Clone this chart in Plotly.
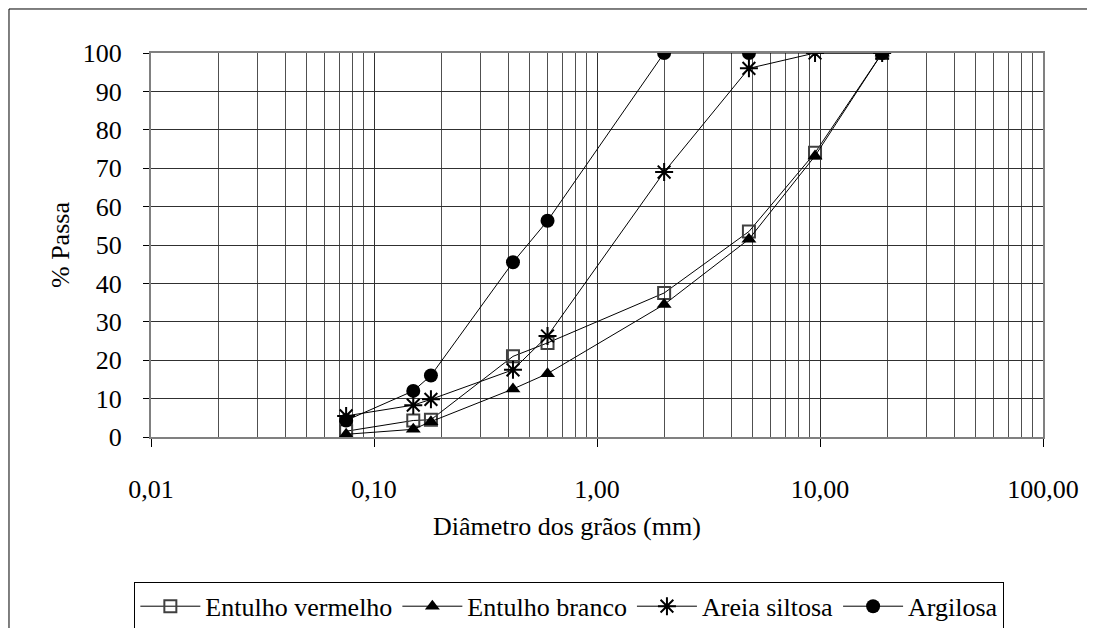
import plotly.graph_objects as go

diametros = [0.075, 0.15, 0.18, 0.42, 0.6, 2.0, 4.8, 9.5, 19.0]
entulho_vermelho = [1.5, 4.3, 4.5, 21.0, 24.5, 37.5, 53.5, 74.0, 100.0]
entulho_branco = [0.7, 2.0, 4.0, 12.5, 16.5, 34.5, 51.5, 73.2, 100.0]
areia_siltosa = [5.5, 8.3, 9.8, 17.5, 26.3, 69.0, 96.0, 100.0, 100.0]
argilosa = [4.3, 12.0, 16.0, 45.5, 56.3, 100.0, 100.0, None, 100.0]

x_tickvals = [0.01, 0.1, 1, 10, 100]
x_ticktext = ["0,01", "0,10", "1,00", "10,00", "100,00"]
minor_vals = [k * 10 ** e for e in range(-2, 2) for k in range(2, 10)]

FONT = "Liberation Serif"
FS = 26
fig = go.Figure()

series = [
    ("Entulho vermelho", entulho_vermelho, dict(symbol="square-open", size=12, color="#404040", line=dict(width=2, color="#404040"))),
    ("Entulho branco", entulho_branco, dict(symbol="triangle-up", size=13, color="black")),
    ("Areia siltosa", areia_siltosa, dict(symbol="asterisk-open", size=15, color="black", line=dict(width=2, color="black"))),
    ("Argilosa", argilosa, dict(symbol="circle", size=14, color="black")),
]
for name, vals, mk in series:
    fig.add_trace(go.Scatter(
        x=diametros, y=vals, name=name, mode="lines+markers",
        line=dict(color="black", width=1), marker=mk, connectgaps=True,
    ))

fig.update_layout(
    width=1087, height=620,
    margin=dict(l=143, r=52, t=45, b=191),
    paper_bgcolor="white", plot_bgcolor="white",
    font=dict(family=FONT, size=FS, color="black"),
    showlegend=True,
    legend=dict(
        orientation="h", x=0.469, xanchor="center",
        yref="container", y=0.035, yanchor="middle",
        bordercolor="black", borderwidth=1, font=dict(family=FONT, size=FS),
        itemwidth=60, tracegroupgap=0,
    ),
    xaxis=dict(
        type="log", range=[-2, 2],
        tickvals=x_tickvals, ticktext=x_ticktext,
        ticks="outside", ticklen=8, tickcolor="black", ticklabelstandoff=20,
        tickfont=dict(family=FONT, size=FS),
        showgrid=True, gridcolor="#303030", gridwidth=1,
        minor=dict(tickvals=minor_vals, showgrid=True, gridcolor="#505050", gridwidth=1, ticks=""),
        showline=True, linecolor="#808080", linewidth=2, mirror=True,
        zeroline=False,
    ),
    yaxis=dict(
        range=[0, 100], dtick=10,
        ticks="outside", ticklen=6, tickcolor="black", ticklabelstandoff=16,
        tickfont=dict(family=FONT, size=FS),
        showgrid=True, gridcolor="#303030", gridwidth=1,
        showline=True, linecolor="#808080", linewidth=2, mirror=True,
        zeroline=False,
    ),
    annotations=[
        dict(text="Diâmetro dos grãos (mm)", xref="paper", yref="paper", x=0.466, y=-0.232,
             xanchor="center", yanchor="middle",
             showarrow=False, font=dict(family=FONT, size=FS)),
        dict(text="% Passa", xref="paper", yref="paper", x=-0.102, y=0.5, textangle=-90,
             xanchor="center", yanchor="middle",
             showarrow=False, font=dict(family=FONT, size=FS)),
    ],
    shapes=[
        dict(type="rect", xref="paper", yref="paper", x0=-0.1592, x1=1.0504, y0=-0.7, y1=1.1146,
             line=dict(color="black", width=1), layer="below"),
    ],
)

fig.write_html("out.html")
